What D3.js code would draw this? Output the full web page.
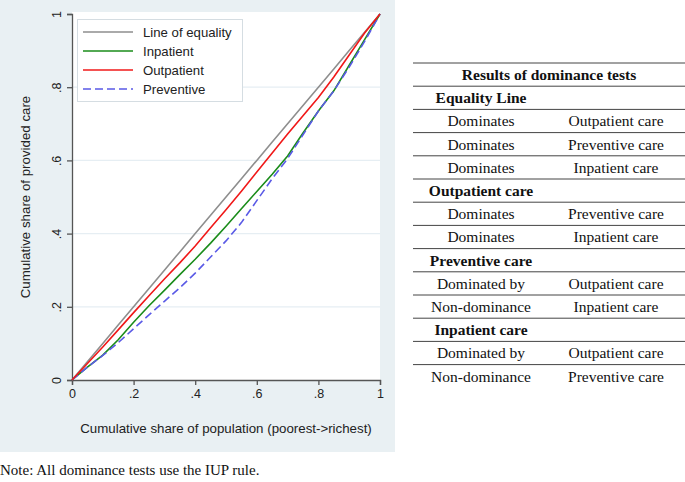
<!DOCTYPE html>
<html><head><meta charset="utf-8">
<script src="https://cdn.jsdelivr.net/npm/d3@7"></script>
<style>body{margin:0;background:#fff}svg{display:block}</style>
</head><body>
<svg id="c" width="685" height="482"></svg>
<script>
// ---- data ----
const xs        = [0,.05,.1,.15,.2,.25,.3,.35,.4,.45,.5,.55,.6,.65,.7,.75,.8,.85,.9,.95,1];
const equality  = [0,.05,.1,.15,.2,.25,.3,.35,.4,.45,.5,.55,.6,.65,.7,.75,.8,.85,.9,.95,1];
const outpatient= [0,.045,.09,.137,.184,.23,.276,.32,.366,.416,.465,.516,.568,.62,.672,.722,.772,.828,.888,.948,1];
const inpatient = [0,.035,.068,.11,.158,.203,.245,.288,.33,.374,.42,.468,.515,.562,.612,.675,.735,.79,.86,.93,1];
const preventive= [0,.035,.067,.102,.14,.178,.215,.252,.292,.336,.38,.43,.49,.55,.605,.67,.735,.79,.855,.925,1];
const seriesNames = ["Line of equality","Inpatient","Outpatient","Preventive"];
const tickVals  = [0,.2,.4,.6,.8,1];
const tickLabels= ["0",".2",".4",".6",".8","1"];
const xTitle = "Cumulative share of population (poorest->richest)";
const yTitle = "Cumulative share of provided care";
const tableTitle = "Results of dominance tests";
const tableRows = [
  ["Equality Line",null],
  ["Dominates","Outpatient care"],
  ["Dominates","Preventive care"],
  ["Dominates","Inpatient care"],
  ["Outpatient care",null],
  ["Dominates","Preventive care"],
  ["Dominates","Inpatient care"],
  ["Preventive care",null],
  ["Dominated by","Outpatient care"],
  ["Non-dominance","Inpatient care"],
  ["Inpatient care",null],
  ["Dominated by","Outpatient care"],
  ["Non-dominance","Preventive care"]
];
const note = "Note: All dominance tests use the IUP rule.";

// ---- drawing ----
const svg = d3.select("#c");
const sans = "'Liberation Sans', Arial, sans-serif";
const serif = "'Liberation Serif', 'Times New Roman', serif";

svg.append("rect").attr("x",0).attr("y",0).attr("width",395).attr("height",452).attr("fill","#e9f0f3");
const x = d3.scaleLinear().domain([0,1]).range([72,380]);
const y = d3.scaleLinear().domain([0,1]).range([380,14]);
svg.append("rect").attr("x",72).attr("y",12).attr("width",308).attr("height",368).attr("fill","#fff");

// gridlines
svg.append("g").selectAll("line").data(tickVals.filter(v=>v>0&&v<1)).join("line")
  .attr("x1",x(0)).attr("x2",x(1)).attr("y1",d=>y(d)).attr("y2",d=>y(d))
  .attr("stroke","#e6eef3").attr("stroke-width",1.2);

// axes
const xAxis = d3.axisBottom(x).tickValues(tickVals).tickFormat((d,i)=>tickLabels[i]).tickSize(5).tickPadding(4);
const yAxis = d3.axisLeft(y).tickValues(tickVals).tickFormat((d,i)=>tickLabels[i]).tickSize(5);
const gx = svg.append("g").attr("transform","translate(0,380)").call(xAxis);
const gy = svg.append("g").attr("transform","translate(72,0)").call(yAxis);
[gx,gy].forEach(g=>{
  g.select(".domain").attr("stroke","#555").attr("stroke-width",1.3);
  g.selectAll(".tick line").attr("stroke","#555").attr("stroke-width",1.3);
  g.selectAll("text").attr("font-family",sans).attr("font-size",12.5).attr("fill","#222");
});
gy.selectAll(".tick text").attr("x",null).attr("dy",null)
  .attr("text-anchor","middle").attr("transform","translate(-11,0) rotate(-90)");

// titles
svg.append("text").attr("x",226).attr("y",433).attr("text-anchor","middle")
  .attr("font-family",sans).attr("font-size",13.3).attr("fill","#222").text(xTitle);
svg.append("text").attr("transform","translate(30,197) rotate(-90)").attr("text-anchor","middle")
  .attr("font-family",sans).attr("font-size",13.3).attr("fill","#222").text(yTitle);

// lines
const styles = [
  {data:equality,  color:"#8e8e8e", dash:null},
  {data:inpatient, color:"#1a8c1a", dash:null},
  {data:outpatient,color:"#f01818", dash:null},
  {data:preventive,color:"#5a5ae6", dash:"8,4"}
];
const line = d3.line().x((d,i)=>x(xs[i])).y(d=>y(d));
[0,1,3,2].forEach(k=>{
  const s = styles[k];
  svg.append("path").datum(s.data).attr("d",line).attr("fill","none")
    .attr("stroke",s.color).attr("stroke-width",1.6)
    .attr("stroke-dasharray",s.dash);
});

// legend
svg.append("rect").attr("x",77.5).attr("y",19.5).attr("width",165).attr("height",82)
  .attr("fill","#fff").attr("stroke","#d5dde2");
seriesNames.forEach((n,i)=>{
  const yy = 32 + i*19;
  svg.append("line").attr("x1",83).attr("x2",133).attr("y1",yy).attr("y2",yy)
    .attr("stroke",styles[i].color).attr("stroke-width",1.6).attr("stroke-dasharray",styles[i].dash);
  svg.append("text").attr("x",143).attr("y",yy+4.5).attr("font-family",sans).attr("font-size",13.2)
    .attr("fill","#222").text(n);
});

// table
const tx0 = 413, tx1 = 685, rowH = 23.2, tTop = 63, c1 = 481, c2 = 616;
const tg = svg.append("g");
for (let k=0;k<=13;k++){
  tg.append("line").attr("x1",tx0).attr("x2",tx1).attr("y1",tTop+k*rowH).attr("y2",tTop+k*rowH)
    .attr("stroke","#444").attr("stroke-width",1);
}
tg.append("text").attr("x",(tx0+tx1)/2).attr("y",tTop+17).attr("text-anchor","middle")
  .attr("font-family",serif).attr("font-weight","bold").attr("font-size",15.5).attr("fill","#111").text(tableTitle);
tableRows.forEach((r,i)=>{
  const by = tTop + (i+1)*rowH + 17;
  tg.append("text").attr("x",c1).attr("y",by).attr("text-anchor","middle")
    .attr("font-family",serif).attr("font-size",15.5).attr("fill","#111")
    .attr("font-weight",r[1]===null?"bold":"normal").text(r[0]);
  if (r[1]!==null) tg.append("text").attr("x",c2).attr("y",by).attr("text-anchor","middle")
    .attr("font-family",serif).attr("font-size",15.5).attr("fill","#111").text(r[1]);
});

svg.append("text").attr("x",0).attr("y",475).attr("font-family",serif).attr("font-size",15)
  .attr("fill","#111").text(note);
</script>
</body></html>
